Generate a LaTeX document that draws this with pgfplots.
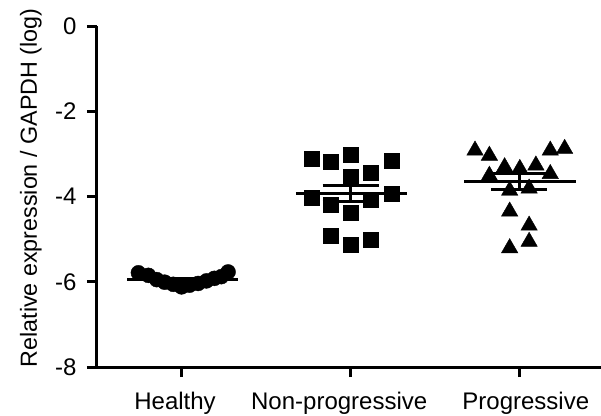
\documentclass[border=0pt]{standalone}
\usepackage{fontspec}
\setmainfont{Liberation Sans}
\usepackage{pgfplots}
\pgfplotsset{compat=1.18}
\begin{document}
\begin{tikzpicture}
\begin{axis}[
  scale only axis, width=504pt, height=341pt,
  xmin=0.5, xmax=3.48, ymin=-8, ymax=0,
  axis lines=left, axis line style={-, line width=3pt},
  xtick={1,2,3},
  xticklabels={\kern-13pt Healthy, \kern-23pt Non-progressive, Progressive\kern-12pt},
  ytick={-8,-6,-4,-2,0}, yticklabels={-8,-6,-4,-2,0},
  tick align=outside, major tick length=10pt,
  tick style={line width=3pt, black},
  ticklabel style={font=\fontsize{24}{28}\selectfont},
  xticklabel style={yshift=-12pt},
  yticklabel style={xshift=-7pt},
  ylabel={Relative expression / GAPDH (log)},
  every axis y label/.style={at={(axis description cs:-0.131,0.525)}, rotate=90, anchor=center, font=\fontsize{23.3}{28}\selectfont},
  clip=false,
]
% Healthy
\addplot[only marks, mark=*, mark size=7.5pt, black] coordinates {
  (0.745,-5.79) (0.804,-5.85) (0.853,-5.95) (0.900,-6.01)
  (0.951,-6.06) (1.000,-6.12) (1.047,-6.08) (1.098,-6.04)
  (1.147,-5.98) (1.194,-5.92) (1.235,-5.88) (1.275,-5.77)
};
% Non-progressive
\addplot[only marks, mark=square*, mark size=7.5pt, black] coordinates {
  (1.77,-3.12) (1.88,-3.19) (2.00,-3.03) (2.245,-3.17)
  (2.00,-3.54) (2.12,-3.44) (1.77,-4.02) (1.88,-4.20)
  (2.00,-4.37) (2.12,-4.08) (2.245,-3.93) (1.88,-4.91)
  (2.00,-5.12) (2.12,-5.01)
};
% Progressive
\addplot[only marks, mark=triangle*, mark size=9.5pt, black] coordinates {
  (2.735,-2.92) (2.82,-3.04) (3.18,-2.92) (3.265,-2.88)
  (2.91,-3.31) (3.00,-3.35) (3.095,-3.27) (2.82,-3.51)
  (3.18,-3.47) (2.94,-3.86) (3.055,-3.81) (2.94,-4.35)
  (3.055,-4.68) (3.055,-5.06) (2.94,-5.21)
};
% means
\addplot[black, line width=3pt] coordinates {(0.68,-5.95) (1.335,-5.95)};
\addplot[black, line width=3pt] coordinates {(1.676,-3.94) (2.335,-3.94)};
\addplot[black, line width=3pt] coordinates {(2.67,-3.65) (3.335,-3.65)};
% SEM bars
\addplot[black, line width=3pt] coordinates {(0.835,-5.92) (1.165,-5.92)};
\addplot[black, line width=3pt] coordinates {(0.835,-5.99) (1.165,-5.99)};
\addplot[black, line width=3pt] coordinates {(1.834,-3.75) (2.165,-3.75)};
\addplot[black, line width=3pt] coordinates {(1.834,-4.11) (2.165,-4.11)};
\addplot[black, line width=3pt] coordinates {(2,-3.75) (2,-4.11)};
\addplot[black, line width=3pt] coordinates {(2.83,-3.46) (3.16,-3.46)};
\addplot[black, line width=3pt] coordinates {(2.83,-3.83) (3.16,-3.83)};
\addplot[black, line width=3pt] coordinates {(3,-3.46) (3,-3.83)};
\end{axis}
\pgfresetboundingbox
\path[use as bounding box] (-97pt,-48pt) rectangle (504pt,367pt);
\end{tikzpicture}
\end{document}
